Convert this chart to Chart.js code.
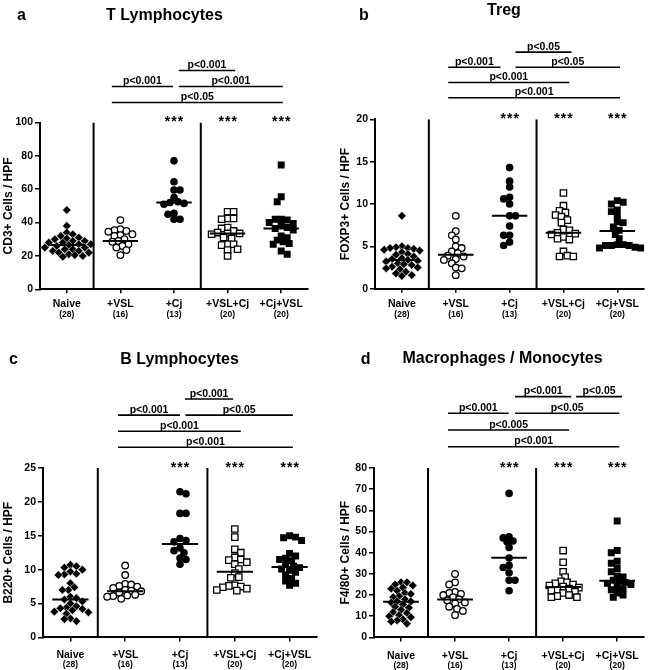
<!DOCTYPE html>
<html>
<head>
<meta charset="utf-8">
<script src="https://cdn.jsdelivr.net/npm/chart.js@4.4.1/dist/chart.umd.min.js"></script>
<style>
body{margin:0;background:#fff}
#grid{display:grid;grid-template-columns:325px 325px;grid-template-rows:335px 335px;width:650px;height:670px}
canvas{display:block}
</style>
</head>
<body>
<div id="grid">
<canvas id="pa" width="325" height="335"></canvas>
<canvas id="pb" width="325" height="335"></canvas>
<canvas id="pc" width="325" height="335"></canvas>
<canvas id="pd" width="325" height="335"></canvas>
</div>
<script>
// =============================
// DATA
// =============================
const groups = ["Naive","+VSL","+Cj","+VSL+Cj","+Cj+VSL"]
const counts = ["(28)","(16)","(13)","(20)","(20)"]
const stars = ["","","***","***","***"]

// a - T Lymphocytes
const tNaive = [47.5,38,34,33,32,31,30.5,30,29,29,28,28,27,27,26.5,26,25,25,24,24,23,23,22,22,21,20.5,20,19.5]
const tVSL = [41.5,36,35.5,35,34.5,33,32.5,32,30,29,28.5,27,26,25,23.5,20.5]
const tCj = [77,64.5,59.5,59.5,55,52.5,52,51.5,51,45.5,45,42,42]
const tVSLCj = [46.5,46.5,42.5,42.5,42,37,36.5,35,34,33.5,33.5,33,31,30.5,27,27,26.5,24,23.5,20]
const tCjVSL = [74.5,55.5,52.5,42,42,41.5,40,39.5,38.5,37,36.5,35.5,32,31,29.5,28.5,27.5,27,23,21]
const tMed = [26.5,29,52,33.5,36.5]
const tTicks = [0,20,40,60,80,100]
const tBrackets = [
{from:0.84,to:1.98,level:2,text:"p<0.001"},
{from:2.09,to:3.14,level:3,text:"p<0.001"},
{from:2.09,to:4.03,level:2,text:"p<0.001"},
{from:0.84,to:4.03,level:1,text:"p<0.05"}
]

// b - Treg
const rNaive = [8.6,5.0,4.9,4.8,4.8,4.7,4.6,4.5,4.3,4.1,4.0,3.8,3.6,3.5,3.4,3.3,3.2,3.0,2.9,2.8,2.6,2.5,2.4,2.3,2.0,1.8,1.6,1.5]
const rVSL = [8.6,6.8,6.3,5.8,5.0,4.8,4.4,4.2,3.9,3.8,3.5,3.4,3.0,2.5,2.4,1.6]
const rCj = [14.3,12.7,12.0,10.8,10.6,10.0,8.6,8.6,7.4,6.3,6.3,5.5,5.1]
const rVSLCj = [11.3,9.8,9.2,9.0,8.7,8.5,8.1,7.8,7.0,6.9,6.6,6.5,6.4,6.1,5.9,5.8,4.4,3.9,3.8,3.8]
const rCjVSL = [10.4,10.2,10.0,9.3,9.1,8.6,7.9,7.8,7.3,6.9,6.4,5.9,5.2,5.2,5.1,5.1,5.1,4.9,4.8,4.8]
const rMed = [3.4,4.0,8.6,6.6,6.8]
const rTicks = [0,5,10,15,20]
const rBrackets = [
{from:2.11,to:3.15,level:4,text:"p<0.05"},
{from:0.86,to:1.83,level:3,text:"p<0.001"},
{from:2.11,to:4.05,level:3,text:"p<0.05"},
{from:0.86,to:3.11,level:2,text:"p<0.001"},
{from:0.86,to:4.05,level:1,text:"p<0.001"}
]

// c - B Lymphocytes
const bNaive = [10.7,10.5,10.3,10.0,9.7,9.4,9.3,9.2,8.0,7.4,7.0,7.0,6.0,5.8,5.6,5.3,5.0,4.6,4.4,4.3,4.2,4.0,3.8,3.7,3.5,2.8,2.7,2.4]
const bVSL = [10.6,9.2,7.9,7.8,7.6,7.5,7.3,7.0,6.9,6.8,6.6,6.3,6.2,6.1,6.0,5.7]
const bCj = [21.5,21.2,18.3,18.3,14.6,14.3,14.1,13.2,12.8,12.5,11.7,11.5,10.8]
const bVSLCj = [16.0,14.8,13.0,12.5,11.8,11.5,11.4,11.1,10.8,10.1,9.5,8.9,8.8,7.7,7.6,7.5,7.4,7.2,7.0,6.9]
const bCjVSL = [15.0,14.8,14.7,14.3,12.4,12.0,11.7,11.5,11.3,10.8,10.5,10.3,10.1,9.9,9.6,9.2,8.7,8.3,8.0,7.7]
const bMed = [5.6,6.8,13.8,9.7,10.4]
const bTicks = [0,5,10,15,20,25]
const bBrackets = [
{from:2.09,to:2.97,level:4,text:"p<0.001"},
{from:0.87,to:2.0,level:3,text:"p<0.001"},
{from:2.1,to:4.06,level:3,text:"p<0.05"},
{from:0.87,to:3.11,level:2,text:"p<0.001"},
{from:0.87,to:4.06,level:1,text:"p<0.001"}
]

// d - Macrophages / Monocytes
const mNaive = [26,26,25,24.5,23.5,23,22,21,20.5,19.5,19,18,17,17,16.5,15.5,14.5,14,13,12,11.5,10.5,10,9.5,8.5,8,7.5,6.5]
const mVSL = [30,26,25,21.5,21,20.5,20,19,18,17.5,16.5,16,14.5,13.5,12.5,10.5]
const mCj = [68,47.5,47,45.5,45,42.5,37.5,34,33,30.5,27,27,22]
const mVSLCj = [41,35.5,31,28.5,26.5,26,25.5,25,24.5,24,23.5,23,22.5,22,21.5,21,20,19.5,19,19]
const mCjVSL = [55,41,40,36,35,32.5,31,29,28.5,27,26.5,26,25.5,25,24,23,22.5,21,20,19]
const mMed = [16.8,17.9,37.6,23.8,26.7]
const mTicks = [0,10,20,30,40,50,60,70,80]
const mBrackets = [
{from:2.11,to:3.15,level:4,text:"p<0.001"},
{from:3.24,to:4.09,level:4,text:"p<0.05"},
{from:0.87,to:1.99,level:3,text:"p<0.001"},
{from:2.11,to:4.04,level:3,text:"p<0.05"},
{from:0.87,to:3.11,level:2,text:"p<0.005"},
{from:0.87,to:4.04,level:1,text:"p<0.001"}
]


// =============================
// STYLE
// =============================
const FONT = '"Liberation Sans", Arial, Helvetica, sans-serif'
Chart.defaults.font.family = FONT
Chart.defaults.color = "#000"

const markers = [
{pointStyle:"rectRot",radius:4.3,bg:"#000",border:"#fff",bw:0.5},
{pointStyle:"circle",radius:3.3,bg:"#fff",border:"#000",bw:1.3},
{pointStyle:"circle",radius:3.8,bg:"#000",border:"#000",bw:0},
{pointStyle:"rect",radius:4.5,bg:"#fff",border:"#000",bw:1.3},
{pointStyle:"rect",radius:4.9,bg:"#000",border:"#000",bw:0}
]


// =============================
// spread points sideways (beeswarm)
// =============================
function spread(values, pxX, pxY){

let order = values.map((v,i)=>i).sort((a,b)=>values[b]-values[a])
let placed = []
let out = []

order.forEach(i=>{
let y = values[i]*pxY
let sgn = placed.length%2 ? 1 : -1
let x = 0
for(let k=0;k<80;k++){
let cand = k===0 ? 0 : Math.ceil(k/2)*2*(k%2 ? sgn : -sgn)
let hit = placed.some(p=>Math.hypot(p.x-cand,p.y-y) < 5.6)
if(!hit){ x = cand; break }
}
placed.push({x:x,y:y})
out[i] = x/pxX
})

return out
}


// =============================
// PANEL
// =============================
function makePanel(id, p){

let pxX = (p.box.right-p.box.left)/5
let pxY = (p.box.bottom-p.box.top)/p.ticks[p.ticks.length-1]
let yMax = p.ticks[p.ticks.length-1]

let datasets = []

p.series.forEach((vals,i)=>{
let off = spread(vals,pxX,pxY)
let m = markers[i]
datasets.push({
data: vals.map((v,k)=>({x:i+off[k], y:v})),
pointStyle:m.pointStyle,
pointRadius:m.radius,
pointBackgroundColor:m.bg,
pointBorderColor:m.border,
pointBorderWidth:m.bw,
showLine:false,
order:2
})
})

p.medians.forEach((v,i)=>{
datasets.push({
data:[{x:i-0.33,y:v},{x:i+0.33,y:v}],
showLine:true, pointRadius:0, borderColor:"#000", borderWidth:2, order:1
})
})

;[0.5,2.5].forEach(x=>{
datasets.push({
data:[{x:x,y:0},{x:x,y:yMax}],
showLine:true, pointRadius:0, borderColor:"#000", borderWidth:2, order:1
})
})

const annot = {
id:"annot",
afterDraw(chart){
let ctx = chart.ctx
let xs = chart.scales.x
let top = chart.chartArea.top
let bottom = chart.chartArea.bottom
ctx.save()
ctx.fillStyle = "#000"
ctx.strokeStyle = "#000"

ctx.font = "bold 16px " + FONT
ctx.textAlign = "left"
ctx.fillText(p.letter, p.letterPos[0], p.letterPos[1])
ctx.textAlign = "center"
ctx.fillText(p.title, p.titlePos[0], p.titlePos[1])

groups.forEach((g,i)=>{
let x = xs.getPixelForValue(i)
ctx.font = "bold 10.5px " + FONT
ctx.fillText(g, x, bottom + p.labelOff[0])
ctx.font = "bold 8.5px " + FONT
ctx.fillText(counts[i], x, bottom + p.labelOff[1])
if(stars[i]){
ctx.font = "bold 14px " + FONT
for(let s=-1;s<=1;s++) ctx.fillText("*", x + s*6.5, top + 3.5)
}
})

ctx.lineWidth = 1.6
p.brackets.forEach(b=>{
let y = top - p.base - (b.level-1)*p.gap
let x1 = xs.getPixelForValue(b.from)
let x2 = xs.getPixelForValue(b.to)
ctx.beginPath()
ctx.moveTo(x1,y)
ctx.lineTo(x2,y)
ctx.stroke()
ctx.font = "bold 10.5px " + FONT
ctx.fillText(b.text, (x1+x2)/2, y - 2.5)
})

ctx.restore()
}
}

return new Chart(document.getElementById(id),{
type:"scatter",
data:{datasets:datasets},
plugins:[annot],
options:{
responsive:false,
animation:false,
layout:{padding:{left:p.box.padLeft, right:325-p.box.right, top:p.box.top, bottom:0}},
plugins:{legend:{display:false}, tooltip:{enabled:false}},
scales:{
x:{
type:"linear",
min:-0.5, max:4.5,
afterBuildTicks(s){ s.ticks = [0,1,2,3,4].map(v=>({value:v})) },
afterFit(s){ s.height = 335 - p.box.bottom },
ticks:{callback:()=>"", padding:0},
grid:{display:true, drawOnChartArea:false, drawTicks:true, tickLength:4, color:"#000", lineWidth:1.5},
border:{display:true, color:"#000", width:2}
},
y:{
type:"linear",
min:0, max:yMax,
afterBuildTicks(s){ s.ticks = p.ticks.map(v=>({value:v})) },
afterFit(s){ s.width = p.box.left - p.box.padLeft },
ticks:{color:"#000", padding:2, font:{size:10.5, weight:"bold"}},
grid:{display:true, drawOnChartArea:false, drawTicks:true, tickLength:5, color:"#000", lineWidth:1.5},
border:{display:true, color:"#000", width:2},
title:{display:true, text:p.yTitle, color:"#000", font:{size:12, weight:"bold"}, padding:{top:1, bottom:0}}
}
}
}
})

}


// =============================
// BUILD
// =============================
makePanel("pa",{
letter:"a", title:"T Lymphocytes", yTitle:"CD3+ Cells / HPF",
series:[tNaive,tVSL,tCj,tVSLCj,tCjVSL], medians:tMed, ticks:tTicks, brackets:tBrackets,
box:{left:40, right:308, top:122.5, bottom:289.3, padLeft:0},
letterPos:[17,20], titlePos:[164.5,20], labelOff:[18,27.5], base:20, gap:16
})

makePanel("pb",{
letter:"b", title:"Treg", yTitle:"FOXP3+ Cells / HPF",
series:[rNaive,rVSL,rCj,rVSLCj,rCjVSL], medians:rMed, ticks:rTicks, brackets:rBrackets,
box:{left:50, right:323, top:119.3, bottom:288.7, padLeft:12},
letterPos:[34,20], titlePos:[179,15], labelOff:[18.3,28], base:21.6, gap:15.2
})

makePanel("pc",{
letter:"c", title:"B Lymphocytes", yTitle:"B220+ Cells / HPF",
series:[bNaive,bVSL,bCj,bVSLCj,bCjVSL], medians:bMed, ticks:bTicks, brackets:bBrackets,
box:{left:43, right:317, top:133, bottom:302.4, padLeft:0},
letterPos:[9,29.3], titlePos:[179.5,29.3], labelOff:[20.5,30], base:20.7, gap:16.1
})

makePanel("pd",{
letter:"d", title:"Macrophages / Monocytes", yTitle:"F4/80+ Cells / HPF",
series:[mNaive,mVSL,mCj,mVSLCj,mCjVSL], medians:mMed, ticks:mTicks, brackets:mBrackets,
box:{left:49, right:324, top:133, bottom:302.4, padLeft:12},
letterPos:[35.7,29.3], titlePos:[177.5,28.3], labelOff:[21.5,30.5], base:21.3, gap:16.7
})
</script>
</body>
</html>
